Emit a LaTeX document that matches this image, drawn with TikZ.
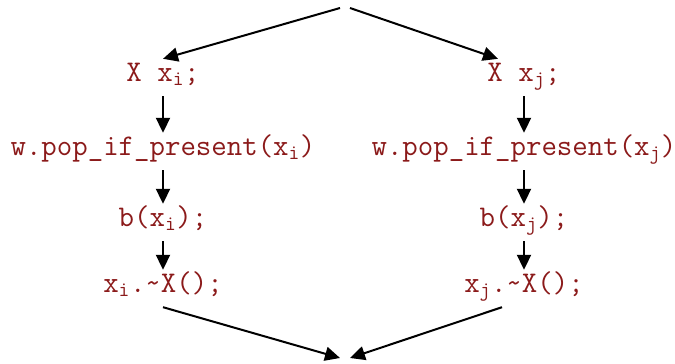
\documentclass[tikz,border=0pt]{standalone}
\usetikzlibrary{arrows.meta}
\definecolor{codered}{RGB}{139,26,26}
\begin{document}
\begin{tikzpicture}[x=1pt, y=-1pt,
  codestyle/.style={codered, anchor=base, inner sep=0pt, text height=22pt, text depth=15pt, font=\ttfamily\fontsize{30}{36}\selectfont},
  flow/.style={-{Triangle[length=15pt,width=14pt]}, line width=2pt}]
  \useasboundingbox (0,0) rectangle (675,364);
  \coordinate (ForkL) at (340,8);
  \coordinate (ForkR) at (350,8);
  \coordinate (JoinL) at (340,358);
  \coordinate (JoinR) at (350,358);

  \node [codestyle] (LeftDecl) at (163,81) {X x\textsubscript{i};};
  \node [codestyle] (LeftPop) at (163,155) {w.pop\_if\_present(x\textsubscript{i})};
  \node [codestyle] (LeftCall) at (163,226) {b(x\textsubscript{i});};
  \node [codestyle] (LeftDtor) at (163,292) {x\textsubscript{i}.\string~X();};
  \draw [flow] (ForkL) -- (LeftDecl.north);
  \draw [flow] (LeftDecl.south) -- (LeftPop.north);
  \draw [flow] (LeftPop.south) -- (LeftCall.north);
  \draw [flow] (LeftCall.south) -- (LeftDtor.north);
  \draw [flow] (LeftDtor.south) -- (JoinL);

  \begin{scope}[xshift=361pt]
    \node [codestyle] (RightDecl) at (163,81) {X x\textsubscript{j};};
    \node [codestyle] (RightPop) at (163,155) {w.pop\_if\_present(x\textsubscript{j})};
    \node [codestyle] (RightCall) at (163,226) {b(x\textsubscript{j});};
    \node [codestyle] (RightDtor) at (163,292) {x\textsubscript{j}.\string~X();};
    \draw [flow] (RightDecl.south) -- (RightPop.north);
    \draw [flow] (RightPop.south) -- (RightCall.north);
    \draw [flow] (RightCall.south) -- (RightDtor.north);
  \end{scope}
  \draw [flow] (ForkR) -- ([xshift=-26pt]RightDecl.north);
  \draw [flow] ([xshift=-22pt]RightDtor.south) -- (JoinR);
\end{tikzpicture}
\end{document}
